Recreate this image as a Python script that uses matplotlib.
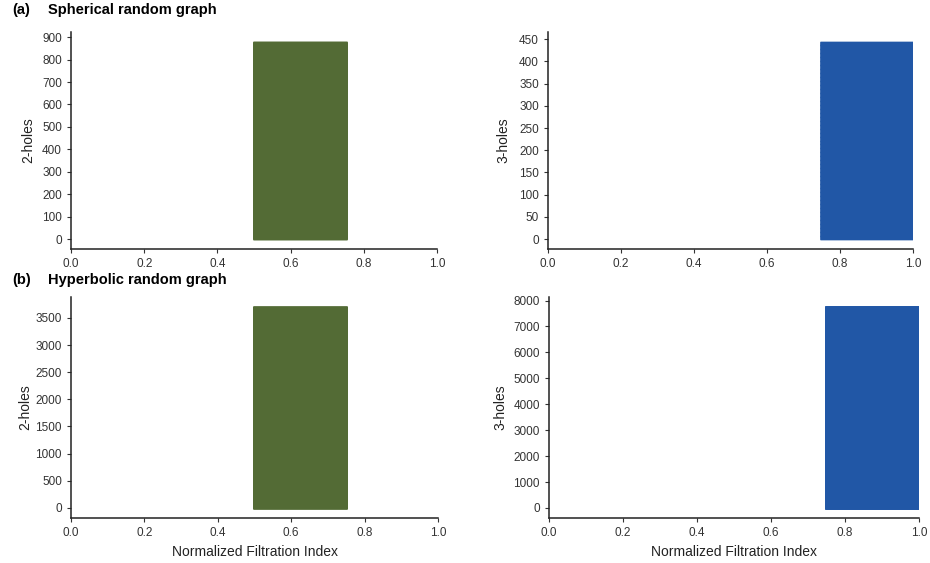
import numpy as np
import matplotlib
matplotlib.use('Agg')
import matplotlib.pyplot as plt

plt.rcParams['font.family'] = ['Liberation Sans', 'DejaVu Sans']

# barcode data: each panel is a set of identical persistence bars (birth, death, count)
panel_titles = ['Spherical random graph', 'Hyperbolic random graph']
panel_tags = ['(a)', '(b)']
hole_labels = ['2-holes', '3-holes']

sph_births = [0.496, 0.745]
sph_deaths = [0.753, 1.0]
sph_counts = [880, 445]

hyp_births = [0.496, 0.745]
hyp_deaths = [0.753, 1.0]
hyp_counts = [3700, 7750]

sph_yticks = [np.arange(0, 901, 100), np.arange(0, 451, 50)]
hyp_yticks = [np.arange(0, 3501, 500), np.arange(0, 8001, 1000)]

colors = ['#536B35', '#2157A6']

W, H = 930, 563
fig = plt.figure(figsize=(W/100, H/100), dpi=100)

def px_axes(x0, x1, ytop, ybot):
    return fig.add_axes([x0/W, 1-ybot/H, (x1-x0)/W, (ybot-ytop)/H])

rows = [(sph_births, sph_deaths, sph_counts, sph_yticks, 32, 249, [(71, 437), (548, 913)], [35, 510]),
        (hyp_births, hyp_deaths, hyp_counts, hyp_yticks, 297, 518, [(71, 438), (549, 919)], [32, 507])]

for r, (births, deaths, counts, yt, ytop, ybot, cols, label_x) in enumerate(rows):
    for c in range(2):
        ax = px_axes(cols[c][0], cols[c][1], ytop, ybot)
        n = counts[c]
        idx = np.arange(n)
        ax.hlines(idx, births[c], deaths[c], color=colors[c], linewidth=1.0)
        ax.set_xlim(0, 1)
        ax.set_xticks([0, 0.2, 0.4, 0.6, 0.8, 1.0])
        ax.set_xticklabels(['0.0', '0.2', '0.4', '0.6', '0.8', '1.0'])
        ax.set_yticks(yt[c])
        for s in ['top', 'right']:
            ax.spines[s].set_visible(False)
        for s in ['left', 'bottom']:
            ax.spines[s].set_linewidth(1.1)
            ax.spines[s].set_color('#222222')
        ax.tick_params(labelsize=8.5, colors='#333333', length=3, width=0.8)
        ax.set_ylabel(hole_labels[c], fontsize=10, color='#222222')
        ax.yaxis.set_label_coords((label_x[c]-cols[c][0])/(cols[c][1]-cols[c][0]), 0.5)
        if r == 1:
            ax.set_xlabel('Normalized Filtration Index', fontsize=10, color='#222222', labelpad=4)

for r in range(2):
    ty = 1 - (10 if r == 0 else 280)/H
    fig.text(12/W, ty, panel_tags[r], fontsize=10.5, fontweight='bold', va='center')
    fig.text(48/W, ty, panel_titles[r], fontsize=10.5, fontweight='bold', va='center')

fig.savefig('out.png', dpi=100)
